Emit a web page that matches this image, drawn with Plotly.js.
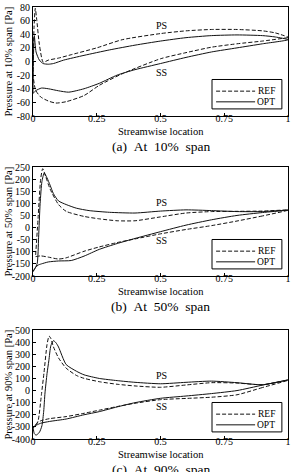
<!DOCTYPE html>
<html>
<head>
<meta charset="utf-8">
<script src="https://cdn.plot.ly/plotly-3.0.1.min.js"></script>
<style>
html,body{margin:0;padding:0;background:#fff;}
#chart{width:292px;height:472px;}
</style>
</head>
<body>
<div id="chart"></div>
<script>
// ---------- 10% span ----------
var ref10PsX = [0, 0.004, 0.009, 0.015, 0.025, 0.04, 0.06, 0.1, 0.15, 0.25, 0.35, 0.5, 0.6, 0.7, 0.8, 0.9, 0.95, 1];
var ref10PsY = [-20, 50, 78, 60, 25, -1, 2, 5, 10, 20, 32, 41, 45, 47, 47, 45, 42, 36];
var ref10SsX = [0, 0.01, 0.03, 0.06, 0.09, 0.13, 0.2, 0.26, 0.35, 0.5, 0.6, 0.7, 0.8, 0.9, 1];
var ref10SsY = [-20, -42, -52, -58, -61, -59, -50, -35, -18, 4, 13, 21, 26, 30, 35];
var opt10PsX = [0, 0.002, 0.005, 0.012, 0.025, 0.04, 0.06, 0.08, 0.12, 0.2, 0.3, 0.4, 0.5, 0.6, 0.7, 0.8, 0.9, 0.95, 1];
var opt10PsY = [-47, 10, 38, 14, 2, -3, -4, -3, 2, 9, 17, 24, 30, 35, 38, 39, 38, 36, 32];
var opt10SsX = [0, 0.01, 0.033, 0.06, 0.1, 0.14, 0.2, 0.26, 0.33, 0.4, 0.5, 0.6, 0.7, 0.8, 0.9, 1];
var opt10SsY = [-47, -43, -39, -40, -43, -45, -40, -32, -20, -12, -3, 6, 14, 20, 26, 32];

// ---------- 50% span ----------
var ref50PsX = [0.01, 0.02, 0.03, 0.038, 0.05, 0.067, 0.1, 0.13, 0.2, 0.26, 0.33, 0.4, 0.5, 0.6, 0.7, 0.8, 0.9, 1];
var ref50PsY = [-120, 40, 200, 243, 210, 159, 95, 67, 46, 36, 28, 28, 44, 60, 66, 67, 68, 72];
var ref50SsX = [0.01, 0.03, 0.06, 0.1, 0.13, 0.2, 0.26, 0.33, 0.4, 0.5, 0.6, 0.7, 0.8, 0.9, 1];
var ref50SsY = [-120, -117, -122, -130, -125, -98, -80, -62, -47, -26, -8, 8, 27, 48, 72];
var opt50PsX = [0, 0.016, 0.022, 0.028, 0.035, 0.044, 0.055, 0.067, 0.08, 0.1, 0.13, 0.17, 0.22, 0.3, 0.4, 0.5, 0.6, 0.7, 0.8, 0.9, 1];
var opt50PsY = [-182, -150, -40, 100, 190, 225, 205, 175, 140, 110, 95, 80, 70, 63, 60, 68, 73, 70, 66, 66, 72];
var opt50SsX = [0, 0.01, 0.02, 0.033, 0.06, 0.1, 0.15, 0.2, 0.26, 0.33, 0.4, 0.5, 0.6, 0.7, 0.8, 0.9, 1];
var opt50SsY = [-182, -165, -155, -150, -142, -138, -136, -118, -90, -66, -45, -17, 10, 32, 50, 62, 72];

// ---------- 90% span ----------
var ref90PsX = [0, 0.01, 0.02, 0.033, 0.043, 0.055, 0.063, 0.07, 0.08, 0.1, 0.13, 0.17, 0.2, 0.26, 0.33, 0.4, 0.5, 0.6, 0.7, 0.8, 0.9, 1];
var ref90PsY = [-310, -290, -250, -34, 145, 380, 450, 430, 362, 270, 185, 125, 101, 73, 52, 38, 27, 46, 65, 62, 48, 85];
var ref90SsX = [0, 0.01, 0.03, 0.065, 0.13, 0.2, 0.26, 0.33, 0.4, 0.5, 0.6, 0.7, 0.8, 0.9, 1];
var ref90SsY = [-310, -280, -250, -232, -215, -188, -162, -132, -105, -75, -65, -55, -35, 25, 85];
var opt90PsX = [0, 0.005, 0.012, 0.025, 0.035, 0.042, 0.047, 0.055, 0.062, 0.07, 0.08, 0.09, 0.1, 0.13, 0.17, 0.2, 0.26, 0.33, 0.4, 0.5, 0.6, 0.7, 0.8, 0.9, 1];
var opt90PsY = [-300, -355, -368, -345, -290, -170, -20, 140, 245, 370, 412, 395, 360, 215, 160, 130, 100, 82, 68, 56, 68, 78, 65, 48, 88];
var opt90SsX = [0, 0.03, 0.065, 0.13, 0.2, 0.26, 0.33, 0.4, 0.5, 0.6, 0.7, 0.8, 0.9, 1];
var opt90SsY = [-300, -270, -255, -235, -200, -174, -135, -100, -64, -45, -25, 0, 45, 88];

// ---------- ticks & labels ----------
var xTickVals = [0, 0.25, 0.5, 0.75, 1];
var xTickText = ['0', '0.25', '0.5', '0.75', '1'];
var y10TickVals = [-80, -60, -40, -20, 0, 20, 40, 60, 80];
var y10TickText = ['-80', '-60', '-40', '-20', '0', '20', '40', '60', '80'];
var y50TickVals = [-200, -150, -100, -50, 0, 50, 100, 150, 200, 250];
var y50TickText = ['-200', '-150', '-100', '-50', '0', '50', '100', '150', '200', '250'];
var y90TickVals = [-400, -300, -200, -100, 0, 100, 200, 300, 400, 500];
var y90TickText = ['-400', '-300', '-200', '-100', '0', '100', '200', '300', '400', '500'];
var seriesNames = ['REF', 'OPT'];
var yTitles = ['Pressure at 10% span [Pa]', 'Pressure at 50% span [Pa]', 'Pressure at 90% span [Pa]'];
var xTitle = 'Streamwise location';
var captions = ['(a)\u00a0\u00a0At\u00a0\u00a010%\u00a0\u00a0span', '(b)\u00a0\u00a0At\u00a0\u00a050%\u00a0\u00a0span', '(c)\u00a0\u00a0At\u00a0\u00a090%\u00a0\u00a0span'];

var FONT = '"Liberation Serif", "Times New Roman", serif';

function loop(ssX, ssY, psX, psY) {
  // suction side from trailing edge to leading edge, then pressure side back
  return {x: ssX.slice().reverse().concat(psX), y: ssY.slice().reverse().concat(psY)};
}

var panels = [
  {ref: loop(ref10SsX, ref10SsY, ref10PsX, ref10PsY), opt: loop(opt10SsX, opt10SsY, opt10PsX, opt10PsY)},
  {ref: loop(ref50SsX, ref50SsY, ref50PsX, ref50PsY), opt: loop(opt50SsX, opt50SsY, opt50PsX, opt50PsY)},
  {ref: loop(ref90SsX, ref90SsY, ref90PsX, ref90PsY), opt: loop(opt90SsX, opt90SsY, opt90PsX, opt90PsY)}
];
var DASH = '4px,2px';

var data = [];
panels.forEach(function (p, i) {
  var sfx = i === 0 ? '' : String(i + 1);
  data.push({
    x: p.ref.x, y: p.ref.y, xaxis: 'x' + sfx, yaxis: 'y' + sfx, name: seriesNames[0],
    mode: 'lines', showlegend: false,
    line: {color: '#111', width: 1, dash: DASH, shape: 'spline', smoothing: 0.6}
  });
  data.push({
    x: p.opt.x, y: p.opt.y, xaxis: 'x' + sfx, yaxis: 'y' + sfx, name: seriesNames[1],
    mode: 'lines', showlegend: false,
    line: {color: '#111', width: 1, shape: 'spline', smoothing: 0.6}
  });
});

var H = 432, BOT = 439;
function dom(top, bottom) { return [(BOT - bottom) / H, (BOT - top) / H]; }
var domains = [dom(7, 116), dom(167, 276), dom(330, 439)];
var yRanges = [[-80, 80], [-200, 250], [-400, 500]];
var yTV = [y10TickVals, y50TickVals, y90TickVals];
var yTT = [y10TickText, y50TickText, y90TickText];

var baseAxis = {
  showline: true, linecolor: '#000', linewidth: 1, mirror: true,
  ticks: 'inside', ticklen: 3, tickwidth: 1, tickcolor: '#000',
  showgrid: false, zeroline: false, fixedrange: true,
  tickfont: {family: FONT, size: 10, color: '#000'}
};

var layout = {
  width: 292, height: 472,
  margin: {l: 33, r: 4, t: 7, b: 33},
  paper_bgcolor: '#fff', plot_bgcolor: '#fff',
  font: {family: FONT, size: 10, color: '#000'},
  showlegend: false,
  annotations: [], shapes: []
};

var psLabels = [[0.505, 53], [0.505, 102], [0.505, 128]];
var ssLabels = [[0.505, -16], [0.505, -55], [0.505, -133]];
// legend box (fractions of each subplot's domain)
var LEG = {x0: 0.702, x1: 0.976, y0: 0.065, y1: 0.335, sx0: 0.718, sx1: 0.871, tx: 0.958, rows: [0.228, 0.13]};

for (var i = 0; i < 3; i++) {
  var sfx = i === 0 ? '' : String(i + 1);
  layout['xaxis' + sfx] = Object.assign({}, baseAxis, {
    domain: [0, 1], range: [0, 1], anchor: 'y' + sfx,
    tickmode: 'array', tickvals: xTickVals, ticktext: xTickText,
    ticklabelstandoff: -7
  });
  layout['yaxis' + sfx] = Object.assign({}, baseAxis, {
    domain: domains[i], range: yRanges[i], anchor: 'x' + sfx,
    tickmode: 'array', tickvals: yTV[i], ticktext: yTT[i]
  });
  var dmid = (domains[i][0] + domains[i][1]) / 2;
  layout.annotations.push({
    text: yTitles[i], xref: 'paper', yref: 'paper', x: 0, y: dmid, xshift: -25,
    xanchor: 'center', yanchor: 'middle', textangle: -90, showarrow: false,
    font: {family: FONT, size: 10.5, color: '#000'}
  });
  layout.annotations.push({
    text: xTitle, xref: 'paper', yref: 'paper', x: 0.5, y: domains[i][0], yshift: -15,
    xanchor: 'center', yanchor: 'middle', showarrow: false,
    font: {family: FONT, size: 10.5, color: '#000'}
  });
  layout.annotations.push({
    text: captions[i], xref: 'paper', yref: 'paper', x: 0.5, y: domains[i][0], yshift: -30,
    xanchor: 'center', yanchor: 'middle', showarrow: false,
    font: {family: FONT, size: 13.5, color: '#000'}
  });
  layout.annotations.push({
    text: 'PS', xref: 'x' + sfx, yref: 'y' + sfx, x: psLabels[i][0], y: psLabels[i][1],
    showarrow: false, font: {family: FONT, size: 10, color: '#000'}
  });
  layout.annotations.push({
    text: 'SS', xref: 'x' + sfx, yref: 'y' + sfx, x: ssLabels[i][0], y: ssLabels[i][1],
    showarrow: false, font: {family: FONT, size: 10, color: '#000'}
  });
  // legend (box, key lines, names)
  var xr = 'x' + sfx + ' domain', yr = 'y' + sfx + ' domain';
  layout.shapes.push({type: 'rect', xref: xr, yref: yr, x0: LEG.x0, x1: LEG.x1, y0: LEG.y0, y1: LEG.y1,
    line: {color: '#000', width: 1}, fillcolor: '#fff', layer: 'above'});
  for (var k = 0; k < 2; k++) {
    layout.shapes.push({type: 'line', xref: xr, yref: yr, x0: LEG.sx0, x1: LEG.sx1, y0: LEG.rows[k], y1: LEG.rows[k],
      line: {color: '#111', width: 1, dash: k === 0 ? DASH : 'solid'}, layer: 'above'});
    layout.annotations.push({
      text: seriesNames[k], xref: xr, yref: yr, x: LEG.tx, y: LEG.rows[k],
      xanchor: 'right', yanchor: 'middle', showarrow: false,
      font: {family: FONT, size: 9.5, color: '#000'}
    });
  }
}

Plotly.newPlot('chart', data, layout, {displayModeBar: false, staticPlot: true});
</script>
</body>
</html>
